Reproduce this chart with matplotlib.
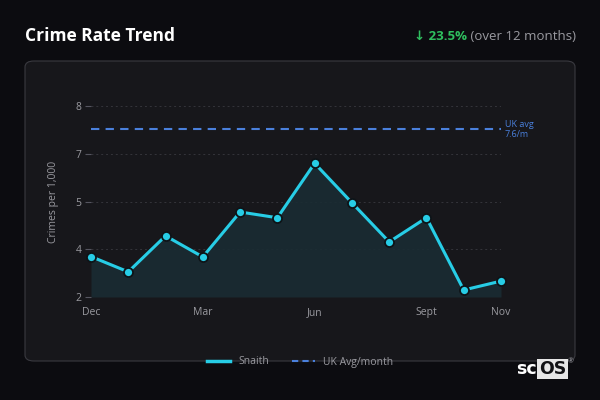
import matplotlib
matplotlib.use("Agg")
import matplotlib.pyplot as plt
from matplotlib.patches import FancyBboxPatch, Rectangle
from matplotlib.lines import Line2D

plt.rcParams['font.family'] = ['Open Sans', 'Noto Sans', 'DejaVu Sans']

# data
months = ['Dec', 'Jan', 'Feb', 'Mar', 'Apr', 'May', 'Jun', 'Jul', 'Aug', 'Sept', 'Oct', 'Nov']
snaith = [3.27, 2.79, 3.92, 3.26, 4.67, 4.49, 6.2, 4.96, 3.73, 4.49, 2.22, 2.5]
uk_avg = 7.27
uk_label = 'UK avg\n7.6/m'
shown_months = ['Dec', 'Mar', 'Jun', 'Sept', 'Nov']
y_ticks = [2, 3.5, 5, 6.5, 8]
y_labels = ['2', '4', '5', '7', '8']

bg = '#0c0c10'
panel = '#17171b'
cyan = '#27cde6'
blue = '#4a80dc'
grey = '#9a9aa0'

W, H = 600, 400
fig = plt.figure(figsize=(6, 4), dpi=100, facecolor=bg)

# card
fig.patches.append(FancyBboxPatch((25 / W, 1 - 361 / H), 550 / W, 300 / H,
                                  boxstyle='round,pad=0,rounding_size=0.015',
                                  transform=fig.transFigure, facecolor=panel,
                                  edgecolor='#3a3a40', linewidth=0.8, zorder=-5))

fig.text(25 / W, 1 - 36 / H, 'Crime Rate Trend', color='white', fontsize=12.5,
         fontweight='bold', va='center', ha='left')
t1 = fig.text(576 / W, 1 - 36 / H, ' (over 12 months)', color=grey, fontsize=9.5,
              va='center', ha='right')
fig.canvas.draw()
bb = t1.get_window_extent()
fig.text(bb.x0 / W, 1 - 36 / H, '↓ 23.5%', color='#2fbf5f', fontsize=9.5,
         fontweight='bold', va='center', ha='right')

ax = fig.add_axes([91 / W, 1 - 297 / H, 410 / W, 191 / H], zorder=2)
ax.set_facecolor('none')
x = list(range(len(months)))
ax.fill_between(x, snaith, 2, color='#1a2c33', alpha=0.9, lw=0, zorder=1)
ax.plot(x, snaith, color=cyan, lw=2.2, marker='o', ms=6.5, mfc=cyan,
        mec='#0e1418', mew=1.3, zorder=4, clip_on=False)
ax.axhline(uk_avg, color=blue, lw=1.5, ls=(0, (4, 3)), zorder=3)
ax.text(11.1, uk_avg, uk_label, color=blue, fontsize=6.5, va='center', ha='left',
        linespacing=1.1)

ax.set_xlim(0, 11)
ax.set_ylim(2, 8)
ax.set_xticks([months.index(m) for m in shown_months])
ax.set_xticklabels(shown_months)
ax.set_yticks(y_ticks)
ax.set_yticklabels(y_labels)
ax.tick_params(axis='x', length=0, pad=7, colors=grey, labelsize=7.5)
ax.tick_params(axis='y', length=4, width=0.8, pad=3, colors=grey, labelsize=7.5,
               color='#555560')
for s in ax.spines.values():
    s.set_visible(False)
for yv in y_ticks[1:]:
    ax.axhline(yv, color='#34343a', lw=0.7, ls=(0, (2, 3)), zorder=0)
ax.set_ylabel('Crimes per 1,000', color=grey, fontsize=7.5, labelpad=12)

handles = [Line2D([], [], color=cyan, lw=2.5),
           Line2D([], [], color=blue, lw=1.5, ls=(0, (3, 2)))]
fig.legend(handles, ['Snaith', 'UK Avg/month'], loc='center',
           bbox_to_anchor=(300 / W, 1 - 362 / H), ncol=2, frameon=False,
           fontsize=7.5, labelcolor=grey, handlelength=2.2, columnspacing=2.2)

# logo
fig.text(537 / W, 1 - 369 / H, 'sc', color='white', fontsize=12.5,
         fontweight='bold', ha='right', va='center', family='DejaVu Sans')
fig.patches.append(Rectangle((537 / W, 1 - 379 / H), 31 / W, 20 / H,
                             transform=fig.transFigure, facecolor='#e6e6e6',
                             edgecolor='none'))
fig.text(552.5 / W, 1 - 369 / H, 'OS', color='#111114', fontsize=12.5,
         fontweight='bold', ha='center', va='center', family='DejaVu Sans')
fig.text(571 / W, 1 - 362 / H, '®', color=grey, fontsize=5, ha='center',
         va='center')

fig.savefig('out.png', dpi=100, facecolor=bg)
